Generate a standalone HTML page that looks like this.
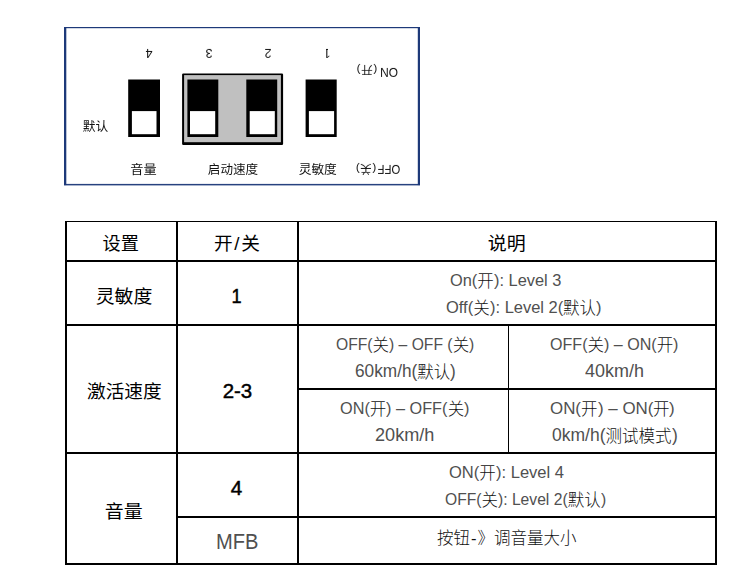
<!DOCTYPE html>
<html lang="zh-CN">
<head>
<meta charset="utf-8">
<title>DIP switch settings</title>
<style>
html,body{margin:0;padding:0;background:#fff;}
body{width:734px;height:586px;position:relative;overflow:hidden;font-family:"Liberation Sans", "Noto Sans CJK SC", sans-serif;}
.t{position:absolute;white-space:nowrap;line-height:1;transform-origin:50% 50%;}
.t b{display:inline-block;font-weight:inherit;white-space:pre;transform-origin:0 100%;}
.d{color:#1a1a1a;}
.d b{color:#505050;position:relative;top:-1px;}
.sb{-webkit-text-stroke:0.45px #000;}
.g{will-change:transform;}
.r{text-align:center;transform:rotate(180deg);will-change:transform;}
.one{clip-path:polygon(0 0,100% 0,100% 10px,7px 10px,7px 100%,5px 100%,5px 10px,0 10px);}
.sl{margin:0 2px 0 1.5px;}
.hy{margin:0 1px;}

svg.dg{position:absolute;left:0;top:0;}
.ln{position:absolute;background:#000;}
</style>
</head>
<body>
<svg class="dg" width="734" height="200" viewBox="0 0 734 200" aria-hidden="true">
<g fill="#1d3979"><rect x="64" y="27" width="356" height="1.2"/><rect x="64" y="183.9" width="356" height="1.5" fill="#27427f"/><rect x="64" y="27" width="2.3" height="158.1"/><rect x="417.8" y="27" width="2.2" height="158.1"/></g>
<rect x="182.1" y="73.5" width="101" height="71.4" rx="1.2" fill="#000"/>
<rect x="184.1" y="75.1" width="96.8" height="67.1" fill="#c0c0c0"/>
<rect x="128.2" y="79.5" width="31.8" height="57.5" fill="#000"/>
<rect x="131.9" y="111.1" width="24.6" height="23.1" fill="#fff"/>
<rect x="187.4" y="79.5" width="30.9" height="57.5" fill="#000"/>
<rect x="190.0" y="111.1" width="25.2" height="23.1" fill="#fff"/>
<rect x="246.3" y="79.5" width="30.9" height="57.5" fill="#000"/>
<rect x="249.7" y="111.1" width="25.1" height="23.1" fill="#fff"/>
<rect x="305.6" y="79.5" width="31.1" height="57.5" fill="#000"/>
<rect x="308.9" y="111.1" width="25.2" height="23.1" fill="#fff"/>
</svg>
<div class="ln" style="left:65px;top:221px;width:2px;height:344px"></div>
<div class="ln" style="left:176px;top:221px;width:2px;height:344px"></div>
<div class="ln" style="left:297px;top:221px;width:2px;height:344px"></div>
<div class="ln" style="left:508px;top:325px;width:1px;height:128px"></div>
<div class="ln" style="left:715px;top:221px;width:2px;height:344px"></div>
<div class="ln" style="left:65px;top:221px;width:652px;height:1px"></div>
<div class="ln" style="left:65px;top:260px;width:652px;height:2px"></div>
<div class="ln" style="left:65px;top:324px;width:652px;height:2px"></div>
<div class="ln" style="left:297px;top:388px;width:420px;height:2px"></div>
<div class="ln" style="left:65px;top:452px;width:652px;height:2px"></div>
<div class="ln" style="left:176px;top:516px;width:541px;height:2px"></div>
<div class="ln" style="left:65px;top:563px;width:652px;height:2px"></div>
<div class="t hd" style="left:102.00px;top:235.00px;font-size:18.67px;font-weight:400;color:#000;transform:scaleX(0.9733);">设置</div>
<div class="t hd" style="left:214.00px;top:235.00px;font-size:18.67px;font-weight:400;color:#000;">开<span class="sl">/</span>关</div>
<div class="t hd" style="left:488.00px;top:235.00px;font-size:18.67px;font-weight:400;color:#000;transform:scaleX(1.0170);">说明</div>
<div class="t" style="left:96.00px;top:288.00px;font-size:18.67px;font-weight:400;color:#000;transform:scaleX(1.0120);">灵敏度</div>
<div class="t sb" style="left:231.00px;top:286.00px;font-size:20px;font-weight:400;color:#000;transform:scaleX(0.9082);">1</div>
<div class="t" style="left:87.00px;top:383.00px;font-size:18.67px;font-weight:400;color:#000;">激活速度</div>
<div class="t sb" style="left:223.00px;top:381.00px;font-size:20px;font-weight:400;color:#000;transform:scaleX(1.0219);">2-3</div>
<div class="t" style="left:105.00px;top:503.00px;font-size:18.67px;font-weight:400;color:#000;transform:scaleX(1.0170);">音量</div>
<div class="t sb" style="left:231.00px;top:478.00px;font-size:20px;font-weight:400;color:#000;transform:scaleX(1.0336);">4</div>
<div class="t d" style="left:450.00px;top:273.00px;font-size:16.5px;font-weight:300;color:#111;"><b style="font-size:17.4px;transform:scaleX(0.9423);margin-right:-1.67px">On(</b>开<b style="font-size:17.4px;transform:scaleX(0.9423);margin-right:-4.13px">): Level 3</b></div>
<div class="t d" style="left:446.00px;top:300.00px;font-size:16.5px;font-weight:300;color:#111;"><b style="font-size:17.4px;transform:scaleX(0.9468);margin-right:-1.53px">Off(</b>关<b style="font-size:17.4px;transform:scaleX(0.9468);margin-right:-4.12px">): Level 2(</b>默认<b style="font-size:17.4px;transform:scaleX(0.9468);margin-right:-0.31px">)</b></div>
<div class="t d" style="left:336.00px;top:337.00px;font-size:16.5px;font-weight:300;color:#111;"><b style="font-size:17.4px;transform:scaleX(0.9016);margin-right:-3.99px">OFF(</b>关<b style="font-size:17.4px;transform:scaleX(0.9016);margin-right:-6.94px">) – OFF (</b>关<b style="font-size:17.4px;transform:scaleX(0.9016);margin-right:-0.57px">)</b></div>
<div class="t d" style="left:355.00px;top:363.00px;font-size:16.5px;font-weight:300;color:#111;"><b style="font-size:18.8px;transform:scaleX(0.9184);margin-right:-5.54px">60km/h(</b>默认<b style="font-size:18.8px;transform:scaleX(0.9184);margin-right:-0.51px">)</b></div>
<div class="t d" style="left:550.00px;top:337.00px;font-size:16.5px;font-weight:300;color:#111;"><b style="font-size:17.4px;transform:scaleX(0.9246);margin-right:-3.06px">OFF(</b>关<b style="font-size:17.4px;transform:scaleX(0.9246);margin-right:-4.30px">) – ON(</b>开<b style="font-size:17.4px;transform:scaleX(0.9246);margin-right:-0.44px">)</b></div>
<div class="t d" style="left:585.00px;top:363.00px;font-size:16.5px;font-weight:300;color:#111;"><b style="font-size:18.8px;transform:scaleX(0.9562);margin-right:-2.70px">40km/h</b></div>
<div class="t d" style="left:340.00px;top:401.00px;font-size:16.5px;font-weight:300;color:#111;"><b style="font-size:17.4px;transform:scaleX(0.9352);margin-right:-2.07px">ON(</b>开<b style="font-size:17.4px;transform:scaleX(0.9352);margin-right:-4.26px">) – OFF(</b>关<b style="font-size:17.4px;transform:scaleX(0.9352);margin-right:-0.38px">)</b></div>
<div class="t d" style="left:375.00px;top:427.00px;font-size:16.5px;font-weight:300;color:#111;"><b style="font-size:18.8px;transform:scaleX(0.9643);margin-right:-2.20px">20km/h</b></div>
<div class="t d" style="left:550.00px;top:401.00px;font-size:16.5px;font-weight:300;color:#111;"><b style="font-size:17.4px;transform:scaleX(0.9725);margin-right:-0.88px">ON(</b>开<b style="font-size:17.4px;transform:scaleX(0.9725);margin-right:-1.57px">) – ON(</b>开<b style="font-size:17.4px;transform:scaleX(0.9725);margin-right:-0.16px">)</b></div>
<div class="t d" style="left:552.00px;top:427.00px;font-size:16.5px;font-weight:300;color:#111;"><b style="font-size:18.8px;transform:scaleX(0.9317);margin-right:-3.92px">0km/h(</b>测试模式<b style="font-size:18.8px;transform:scaleX(0.9317);margin-right:-0.43px">)</b></div>
<div class="t d" style="left:216.00px;top:532.00px;font-size:22px;font-weight:300;color:#000;"><b style="transform:scaleX(0.9139);margin-right:-4.00px">MFB</b></div>
<div class="t d" style="left:449.00px;top:465.00px;font-size:16.5px;font-weight:300;color:#111;"><b style="font-size:17.4px;transform:scaleX(0.9512);margin-right:-1.56px">ON(</b>开<b style="font-size:17.4px;transform:scaleX(0.9512);margin-right:-3.49px">): Level 4</b></div>
<div class="t d" style="left:445.00px;top:492.00px;font-size:16.5px;font-weight:300;color:#111;"><b style="font-size:17.4px;transform:scaleX(0.9002);margin-right:-4.05px">OFF(</b>关<b style="font-size:17.4px;transform:scaleX(0.9002);margin-right:-7.72px">): Level 2(</b>默认<b style="font-size:17.4px;transform:scaleX(0.9002);margin-right:-0.58px">)</b></div>
<div class="t d" style="left:437.00px;top:530.00px;font-size:16.5px;font-weight:300;color:#111;">按钮<span class="hy">-</span>》调音量大小</div>
<div class="t r" style="left:143px;top:46px;width:12px;height:14px;line-height:14px;font-size:12.5px;font-weight:400;color:#111;">4</div>
<div class="t r" style="left:203px;top:46px;width:12px;height:14px;line-height:14px;font-size:12.5px;font-weight:400;color:#111;">3</div>
<div class="t r" style="left:262px;top:46px;width:12px;height:14px;line-height:14px;font-size:12.5px;font-weight:400;color:#111;">2</div>
<div class="t r one" style="left:321px;top:46px;width:12px;height:14px;line-height:14px;font-size:12.5px;font-weight:400;color:#111;">1</div>
<div class="t r" style="left:377px;top:65px;width:24px;height:14px;line-height:14px;font-size:12px;font-weight:400;color:#111;">ON</div>
<div class="t r" style="left:354px;top:63px;width:26px;height:14px;line-height:14px;font-size:11.7px;font-weight:400;color:#111;letter-spacing:0.6px;text-indent:0.6px;">(开)</div>
<div class="t r" style="left:374px;top:162px;width:30px;height:14px;line-height:14px;font-size:13px;font-weight:400;color:#111;"><span style="display:inline-block;transform:scaleX(0.87)">OFF</span></div>
<div class="t r" style="left:353px;top:162px;width:26px;height:14px;line-height:14px;font-size:11.7px;font-weight:400;color:#111;letter-spacing:0.5px;text-indent:0.5px;">(关)</div>
<div class="t g" style="left:83.00px;top:121.00px;font-size:12.5px;font-weight:400;color:#111;transform:scaleX(1.0208);">默认</div>
<div class="t g" style="left:131.00px;top:164.00px;font-size:12.5px;font-weight:400;color:#111;transform:scaleX(1.0548);">音量</div>
<div class="t g" style="left:208.00px;top:164.00px;font-size:12.5px;font-weight:400;color:#111;transform:scaleX(1.0072);">启动速度</div>
<div class="t g" style="left:299.00px;top:164.00px;font-size:12.5px;font-weight:400;color:#111;transform:scaleX(1.0180);">灵敏度</div>
</body>
</html>
